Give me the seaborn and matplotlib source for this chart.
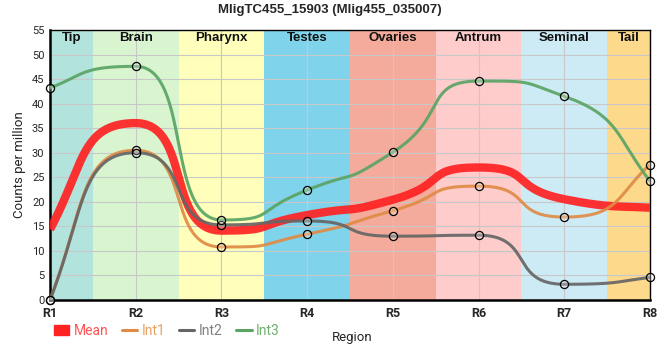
import numpy as np
import pandas as pd
import matplotlib
matplotlib.use('Agg')
import matplotlib.pyplot as plt
import seaborn as sns
from matplotlib.lines import Line2D
from matplotlib.patches import Patch

# chart data
regions = ['R1', 'R2', 'R3', 'R4', 'R5', 'R6', 'R7', 'R8']
tissues = ['Tip', 'Brain', 'Pharynx', 'Testes', 'Ovaries', 'Antrum', 'Seminal', 'Tail']
int1 = [0.0, 30.5, 10.8, 13.4, 18.2, 23.2, 16.9, 27.6]
int2 = [0.0, 30.0, 15.3, 16.1, 13.0, 13.2, 3.2, 4.6]
int3 = [43.2, 47.6, 16.3, 22.4, 30.1, 44.6, 41.5, 24.2]
mean = list(np.mean([int1, int2, int3], axis=0))

band_colors = ['#b3e3dd', '#d8f5d0', '#ffffbb', '#7fd3eb',
               '#f4ab9b', '#ffcccc', '#cdebf5', '#fdd98c']
line_colors = {'Mean': '#ff2222', 'Int1': '#e08b45', 'Int2': '#666666', 'Int3': '#5aa465'}
text_colors = {'Mean': '#ff5555', 'Int1': '#e8a060', 'Int2': '#808080', 'Int3': '#70b070'}


def smooth_curve(y, handle=0.65, end_handle=0.4, n=60):
    # monotone-style bezier through evenly spaced points, long flat handles
    y = np.asarray(y, dtype=float)
    s = np.diff(y)
    t = np.zeros_like(y)
    for i in range(1, len(y) - 1):
        s0, s1 = s[i - 1], s[i]
        p = (s0 + s1) / 2
        t[i] = (np.sign(s0) + np.sign(s1)) * min(abs(s0), abs(s1), 0.5 * abs(p))
    t[0] = (3 * s[0] - t[1]) / 2
    t[-1] = (3 * s[-1] - t[-2]) / 2
    hl = np.full(len(y), handle)
    hl[0] = hl[-1] = end_handle
    xs, ys = [], []
    u = np.linspace(0, 1, n)
    for i in range(len(y) - 1):
        d = abs(s[i])
        a0, a1 = hl[i], hl[i + 1]
        k0 = 1.0 if abs(t[i]) * a0 <= d else d / (abs(t[i]) * a0)
        k1 = 1.0 if abs(t[i + 1]) * a1 <= d else d / (abs(t[i + 1]) * a1)
        p0 = (i, y[i])
        c1 = (i + a0 * k0, y[i] + a0 * k0 * t[i])
        c2 = (i + 1 - a1 * k1, y[i + 1] - a1 * k1 * t[i + 1])
        p3 = (i + 1, y[i + 1])
        b0, b1, b2, b3 = (1 - u)**3, 3 * (1 - u)**2 * u, 3 * (1 - u) * u**2, u**3
        xs.append(b0 * p0[0] + b1 * c1[0] + b2 * c2[0] + b3 * p3[0])
        ys.append(b0 * p0[1] + b1 * c1[1] + b2 * c2[1] + b3 * p3[1])
    return np.concatenate(xs), np.concatenate(ys)


sns.set_style('white')
plt.rcParams['font.family'] = ['Roboto', 'DejaVu Sans']

fig = plt.figure(figsize=(6.6, 3.6), dpi=100)
ax = fig.add_axes([50 / 660, 60 / 360, 600 / 660, 270 / 360])

# region bands
for i, (name, c) in enumerate(zip(tissues, band_colors)):
    lo = max(i - 0.5, 0)
    hi = min(i + 0.5, len(regions) - 1)
    ax.axvspan(lo, hi, color=c, zorder=0, lw=0)
    ax.text((lo + hi) / 2, 53.3, name, ha='center', va='center', fontsize=9.5,
            fontweight='bold', family='Liberation Sans', color='#111111', zorder=6)

series = {'Mean': mean, 'Int1': int1, 'Int2': int2, 'Int3': int3}
widths = {'Mean': 6.0, 'Int1': 2.2, 'Int2': 2.2, 'Int3': 2.2}
for name, vals in series.items():
    cx, cy = smooth_curve(vals)
    df = pd.DataFrame({'x': cx, 'y': cy})
    sns.lineplot(data=df, x='x', y='y', ax=ax, color=line_colors[name],
                 linewidth=widths[name], alpha=0.92, sort=False, estimator=None,
                 zorder=3, solid_capstyle='butt')

pts = pd.DataFrame({'x': list(range(len(regions))) * 3, 'y': int1 + int2 + int3})
sns.scatterplot(data=pts, x='x', y='y', ax=ax, s=34, facecolor=(1, 1, 1, 0.25),
                edgecolor='black', linewidth=0.9, zorder=5, clip_on=False)

ax.set_xlim(0, len(regions) - 1)
ax.set_ylim(0, 55)
ax.set_xticks(range(len(regions)))
ax.set_xticklabels(regions, fontweight='bold', fontsize=9)
ax.set_yticks(range(0, 56, 5))
ax.tick_params(axis='y', labelsize=8, length=0, pad=4)
ax.tick_params(axis='x', length=0, pad=5)
ax.set_axisbelow(True)
ax.grid(True, color='#c8c8c8', linewidth=0.8)

for side in ['top', 'right']:
    ax.spines[side].set_color('black')
    ax.spines[side].set_linewidth(1.0)
for side in ['left', 'bottom']:
    ax.spines[side].set_color('black')
    ax.spines[side].set_linewidth(1.8)

ax.set_xlabel('Region', fontsize=9.5)
ax.xaxis.set_label_coords(0.503, -0.115)
ax.set_ylabel('Counts per million', fontsize=9.5)
ax.yaxis.set_label_coords(-0.04, 0.5)

fig.text(0.5, 1 - 10 / 360, 'MligTC455_15903 (Mlig455_035007)', ha='center', va='center',
         fontsize=9.5, fontweight='bold', family='Liberation Sans')

handles = [Patch(color=line_colors['Mean'])]
handles += [Line2D([0], [0], color=line_colors[k], lw=2.2) for k in ['Int1', 'Int2', 'Int3']]
leg = fig.legend(handles, list(series.keys()), ncol=4, loc='center left',
                 bbox_to_anchor=(54 / 660, 1 - 331 / 360), frameon=False,
                 fontsize=10, handlelength=1.1, handleheight=0.7,
                 handletextpad=0.3, columnspacing=1.0, borderaxespad=0, borderpad=0)
for txt, k in zip(leg.get_texts(), series.keys()):
    txt.set_color(text_colors[k])

plt.savefig('out.png', dpi=100)
